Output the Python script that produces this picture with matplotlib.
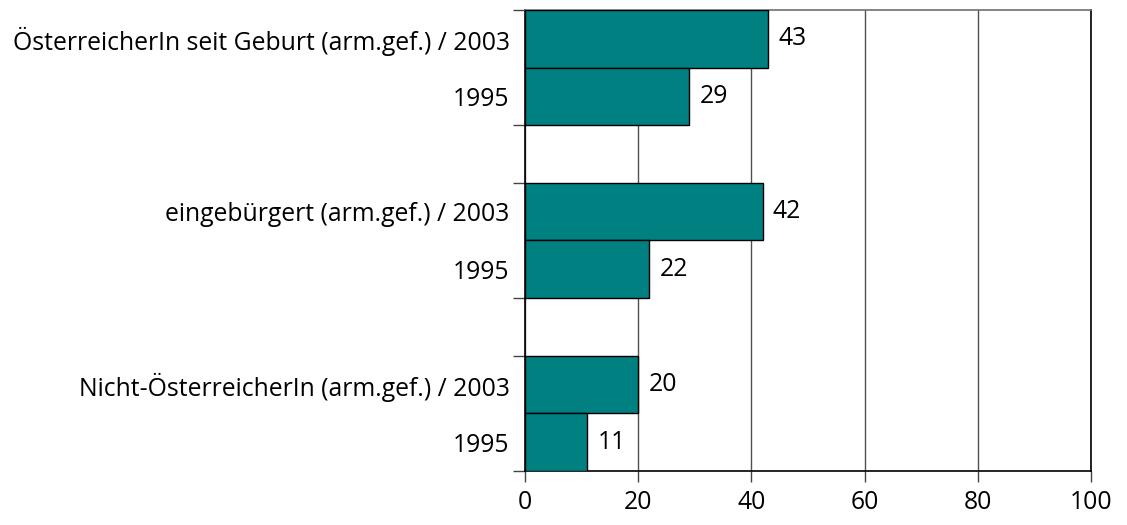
import numpy as np
import matplotlib.pyplot as plt
from matplotlib.ticker import FixedLocator

plt.rcParams['font.family'] = ['Open Sans', 'DejaVu Sans']

# Gruppen (oben nach unten)
groups = ["ÖsterreicherIn seit Geburt (arm.gef.)", "eingebürgert (arm.gef.)", "Nicht-ÖsterreicherIn (arm.gef.)"]
years = ["2003", "1995"]
values_2003 = [43, 42, 20]
values_1995 = [29, 22, 11]
x_ticks = [0, 20, 40, 60, 80, 100]

teal = "#008080"
fs = 17.8

fig = plt.figure(figsize=(11.27, 5.25), dpi=100)
ax = fig.add_axes([0.4658, 0.1029, 0.9681 - 0.4658, 0.981 - 0.1029])

pos, vals, labels = [], [], []
for g, name in enumerate(groups):
    base = g * 3
    pos += [base + 0.5, base + 1.5]
    vals += [values_2003[g], values_1995[g]]
    labels += [f"{name} / {years[0]}", years[1]]

ax.barh(pos, vals, height=1.0, color=teal, edgecolor="black", linewidth=1, zorder=3)
for p, v in zip(pos, vals):
    ax.text(v + 1.8, p, str(v), va="center", ha="left", fontsize=fs, zorder=4)

ax.set_xlim(0, 100)
ax.set_ylim(8, 0)
ax.set_xticks(x_ticks)
ax.tick_params(axis="x", length=8, width=1, labelsize=fs, pad=6, color="#444444")
ax.xaxis.grid(True, color="#505050", linewidth=1, zorder=1)

ax.set_yticks(pos)
ax.set_yticklabels(labels, fontsize=fs)
ax.tick_params(axis="y", which="major", length=0, pad=11)
ax.yaxis.set_minor_locator(FixedLocator([0, 2, 3, 5, 6, 8]))
ax.tick_params(axis="y", which="minor", length=9, width=1, color="#444444")

for s in ["left", "bottom", "right"]:
    ax.spines[s].set_color("black")
    ax.spines[s].set_linewidth(1.2)
ax.spines["top"].set_color("#707070")
ax.spines["top"].set_linewidth(1.2)

fig.savefig("out.png", dpi=100)
